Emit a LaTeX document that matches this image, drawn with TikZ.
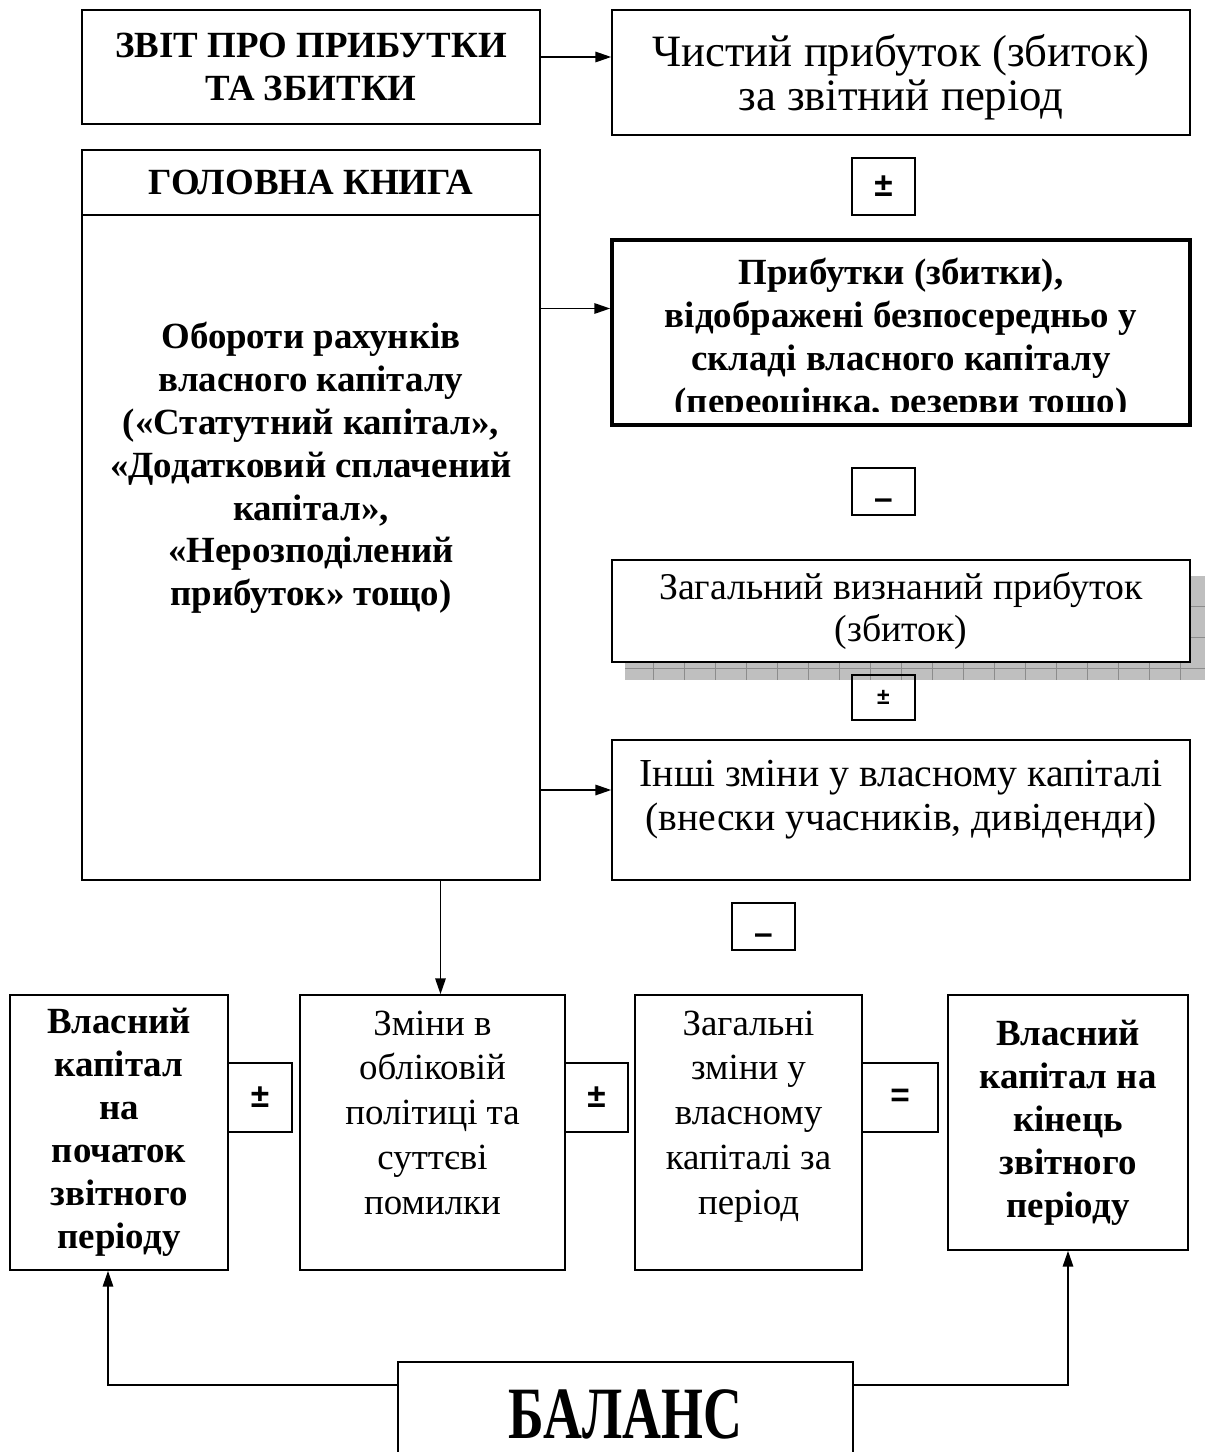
\documentclass[tikz,border=0pt]{standalone}
\usepackage{fontspec}
\usepackage{graphicx}
\setmainfont{Liberation Serif}
\newfontfamily\signfont{Liberation Sans}
\usetikzlibrary{arrows.meta,positioning}

\begin{document}
\begin{tikzpicture}[
  x=0.02cm, y=-0.02cm,
  box/.style={draw, line width=1pt, align=center, inner sep=0pt, font=\fontsize{21}{25.5}\selectfont},
  bbox/.style={box, font=\fontsize{21}{24.5}\selectfont\bfseries},
  sign/.style={draw, line width=1pt, inner sep=0pt, minimum width=1.26cm, font=\signfont\bfseries\fontsize{19}{19}\selectfont},
  arr/.style={-{Triangle[length=9pt,width=6pt]}, line width=0.8pt}
]
\useasboundingbox (0,0) rectangle (1207,1452);

% top right column
\node[bbox, minimum width=9.16cm, minimum height=2.28cm] (zvit) at (311,67) {ЗВІТ ПРО ПРИБУТКИ\\ТА ЗБИТКИ};
\node[box, minimum width=11.56cm, minimum height=2.5cm, text depth=0pt, font=\fontsize{25.5}{25}\selectfont] (chyst) at (901,72.5) {Чистий прибуток (збиток)\\за звітний період};
\node[sign, minimum height=1.14cm] (pm1) at (883.5,186.5) {±};

% general ledger
\node[bbox, minimum width=9.16cm, minimum height=1.3cm] (head) at (311,182.5) {ГОЛОВНА КНИГА};
\node[box, minimum width=9.16cm, minimum height=13.3cm] (book) at (311,547.5) {};
\node[align=center, font=\fontsize{21}{24.4}\selectfont\bfseries] (booktxt) at (311,468)
  {Обороти рахунків\\власного капіталу\\(«Статутний капітал»,\\«Додатковий сплачений\\капітал»,\\«Нерозподілений\\прибуток» тощо)};

% equity gains box, text cut at the frame
\node[box, line width=2.2pt, minimum width=11.56cm, minimum height=3.7cm] (prof) at (901,332.5) {};
\begin{scope}
  \clip (615,243) rectangle (1187,412);
  \node[align=center, font=\fontsize{21}{24.4}\selectfont\bfseries] (proftxt) at (901,340)
    {Прибутки (збитки),\\відображені безпосередньо у\\складі власного капіталу\\(переоцінка, резерви тощо)};
\end{scope}
\node[sign, minimum height=0.94cm] (mn1) at (883.5,491.5) {\smash{\raisebox{-10.5pt}{–}}};

% total recognised profit, shadow first
\fill[black!25] (625,576) rectangle (1205,680);
\foreach \gx in {653,684,...,1181} \draw[black!45, line width=0.5pt] (\gx,576) -- (\gx,680);
\foreach \gy in {606,637,668} \draw[black!45, line width=0.5pt] (625,\gy) -- (1205,\gy);
\node[box, fill=white, line width=1.4pt, minimum width=11.56cm, minimum height=2.04cm, font=\fontsize{21.5}{23.5}\selectfont] (total) at (901,611) {Загальний визнаний прибуток\\(збиток)};
\node[sign, minimum height=0.9cm, font=\signfont\bfseries\fontsize{13}{13}\selectfont] (pm2) at (883.5,697.5) {±};
\node[box, minimum width=11.56cm, minimum height=2.8cm, text depth=0.6cm, font=\fontsize{22.6}{25}\selectfont] (other) at (901,810) {Інші зміни у власному капіталі\\(внески учасників, дивіденди)};
\node[sign, minimum height=0.94cm] (mn2) at (763.5,926.5) {\smash{\raisebox{-10.5pt}{–}}};

% bottom row
\node[bbox, minimum width=4.36cm, minimum height=5.5cm] (eqstart) at (119,1132.5) {Власний\\капітал\\на\\початок\\звітного\\періоду};
\node[sign, minimum width=1.28cm, minimum height=1.38cm] (pmA) at (260,1097.5) {±};
\node[box, minimum width=5.3cm, minimum height=5.5cm, text depth=0.8cm] (chng) at (432.5,1132.5) {Зміни в\\обліковій\\політиці та\\суттєві\\помилки};
\node[sign, minimum height=1.38cm] (pmB) at (596.5,1097.5) {±};
\node[box, minimum width=4.54cm, minimum height=5.5cm, text depth=0.8cm] (totch) at (748.5,1132.5) {Загальні\\зміни у\\власному\\капіталі за\\період};
\node[sign, minimum width=1.52cm, minimum height=1.38cm] (eqs) at (900,1097.5) {=};
\node[bbox, minimum width=4.8cm, minimum height=5.1cm] (eqend) at (1068,1122.5) {Власний\\капітал на\\кінець\\звітного\\періоду};

\node[draw, line width=1pt, inner sep=0pt, minimum width=9.1cm, minimum height=2.2cm,
  font=\fontsize{42}{45}\selectfont\bfseries] (bal) at (625.5,1417) {\smash{\raisebox{-0.42cm}{\scalebox{0.73}[1]{БАЛАНС}}}};

% connectors
\draw[arr] ([yshift=0.2cm]zvit.east) -- ([yshift=0.2cm]zvit.east -| chyst.west);
\draw[arr] ([yshift=0.48cm]book.east |- prof.west) -- ([yshift=0.48cm]prof.west);
\draw[arr] ([yshift=0.4cm]book.east |- other.west) -- ([yshift=0.4cm]other.west);
\draw[arr] ([xshift=0.16cm]book.south -| chng.north) -- ([xshift=0.16cm]chng.north);
\draw[arr] ([yshift=0.64cm]bal.west) -| ([xshift=-0.22cm]eqstart.south);
\draw[arr] ([yshift=0.64cm]bal.east) -| (eqend.south);
\end{tikzpicture}
\end{document}
